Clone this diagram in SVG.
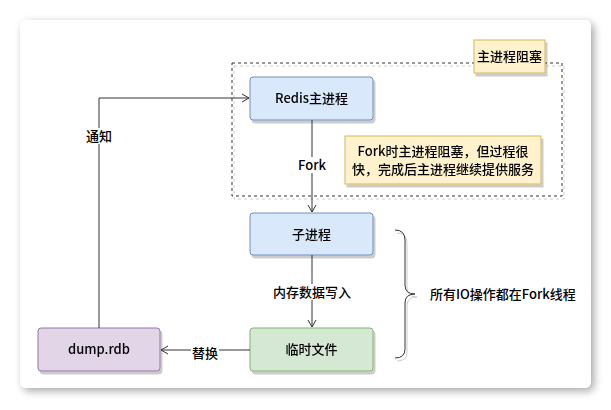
<svg xmlns="http://www.w3.org/2000/svg" width="611" height="410" viewBox="0 0 611 410">
<defs>
<filter id="cardShadow" x="-10%" y="-10%" width="120%" height="120%">
<feGaussianBlur in="SourceAlpha" stdDeviation="4"/>
<feOffset dx="3" dy="3" result="b"/>
<feComponentTransfer><feFuncA type="linear" slope="0.35"/></feComponentTransfer>
<feMerge><feMergeNode/><feMergeNode in="SourceGraphic"/></feMerge>
</filter>
<filter id="nodeShadow" x="-10%" y="-10%" width="130%" height="140%">
<feOffset in="SourceAlpha" dx="2" dy="3" result="o"/>
<feComponentTransfer><feFuncA type="linear" slope="0.2"/></feComponentTransfer>
<feMerge><feMergeNode/><feMergeNode in="SourceGraphic"/></feMerge>
</filter>
<marker id="open" markerWidth="10" markerHeight="10" refX="8" refY="5" orient="auto" markerUnits="userSpaceOnUse">
<path d="M1,1 L8,5 L1,9" fill="none" stroke="#333" stroke-width="1"/>
</marker>
<style>
text{font-family:"Noto Sans CJK SC","Liberation Sans",sans-serif;font-size:13px;font-weight:500;fill:#000;}
.c{text-anchor:middle;}
.blue{fill:#dae8fc;stroke:#6c8ebf;}
.green{fill:#d5e8d4;stroke:#82b366;}
.purple{fill:#e1d5e7;stroke:#9673a6;}
.yellow{fill:#fff2cc;stroke:#d6b656;}
.edge{fill:none;stroke:#333;stroke-width:1;}
.lbl{fill:#fff;}
</style>
</defs>
<rect x="20" y="20" width="571" height="368" rx="6" fill="#fff" filter="url(#cardShadow)"/>
<g id="group-block">
<rect x="232" y="63" width="330" height="133" fill="none" stroke="#333" stroke-dasharray="3,3" filter="url(#nodeShadow)"/>
</g>
<g id="label-block" filter="url(#nodeShadow)">
<rect class="yellow" x="474" y="40" width="71" height="33"/>
<text class="c" x="509.5" y="61">主进程阻塞</text>
</g>
<g id="note" filter="url(#nodeShadow)">
<rect class="yellow" x="345" y="136" width="196" height="48"/>
<text class="c" x="443" y="156">Fork时主进程阻塞，但过程很</text>
<text class="c" x="443" y="174">快，完成后主进程继续提供服务</text>
</g>
<g id="redis" filter="url(#nodeShadow)">
<rect class="blue" x="250" y="77" width="123" height="43" rx="3"/>
<text class="c" x="311.5" y="103">Redis主进程</text>
</g>
<g id="child" filter="url(#nodeShadow)">
<rect class="blue" x="250" y="213" width="123" height="42" rx="3"/>
<text class="c" x="311.5" y="239">子进程</text>
</g>
<g id="temp" filter="url(#nodeShadow)">
<rect class="green" x="250" y="328" width="123" height="43" rx="3"/>
<text class="c" x="311.5" y="354">临时文件</text>
</g>
<g id="dump" filter="url(#nodeShadow)">
<rect class="purple" x="38" y="328" width="122" height="43" rx="3"/>
<text class="c" x="99" y="354">dump.rdb</text>
</g>
<g id="brace-note">
<path d="M395,230 Q405,230 405,240 L405,285 Q405,294 415,294 Q405,294 405,303 L405,349 Q405,358 395,358" fill="none" stroke="#333" filter="url(#nodeShadow)"/>
<text x="430" y="299">所有IO操作都在Fork线程</text>
</g>
<g id="connectors">
<path class="edge" d="M312,120 L312,212" marker-end="url(#open)"/>
<rect class="lbl" x="296" y="157" width="32" height="16"/>
<text class="c" x="312" y="170">Fork</text>
<path class="edge" d="M312,255 L312,327" marker-end="url(#open)"/>
<rect class="lbl" x="273" y="284" width="78" height="16"/>
<text class="c" x="312" y="297">内存数据写入</text>
<path class="edge" d="M250,350 L161,350" marker-end="url(#open)"/>
<rect class="lbl" x="191" y="345" width="28" height="16"/>
<text class="c" x="205" y="358">替换</text>
<path class="edge" d="M99,328 L99,98 L249,98" marker-end="url(#open)"/>
<rect class="lbl" x="85" y="128" width="28" height="16"/>
<text class="c" x="99" y="141">通知</text>
</g>
</svg>
